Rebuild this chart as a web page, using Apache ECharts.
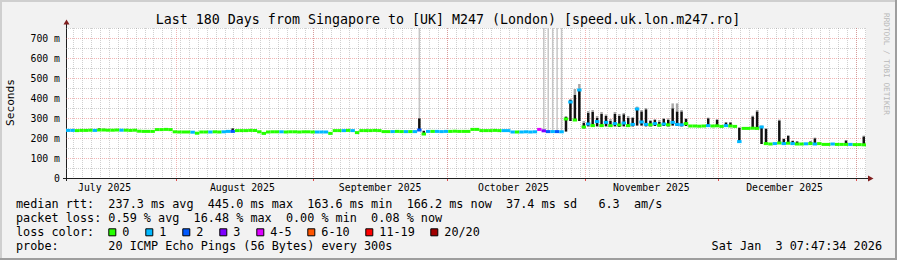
<!DOCTYPE html>
<html><head><meta charset="utf-8">
<script src="https://cdn.jsdelivr.net/npm/echarts@6/dist/echarts.min.js"></script>
<style>html,body{margin:0;padding:0;background:#f2f2f2}#c{width:897px;height:260px}</style>
</head><body><div id="c"></div>
<script>
// ---------- data ----------
const titleText = 'Last 180 Days from Singapore to [UK] M247 (London) [speed.uk.lon.m247.ro]';
const startTime = '2025-07-07T07:47:34Z';
const endTime = '2026-01-03T07:47:34Z';
const minorGridFrom = '2025-07-09T00:00:00Z';
const monthStarts = ['2025-08-01', '2025-09-01', '2025-10-01', '2025-11-01', '2025-12-01', '2026-01-01'];
const monthLabelDates = ['2025-07-16', '2025-08-16', '2025-09-16', '2025-10-16', '2025-11-16', '2025-12-16'];
const monthLabels = ['July 2025', 'August 2025', 'September 2025', 'October 2025', 'November 2025', 'December 2025'];
const yMajorValues = [100, 200, 300, 400, 500, 600, 700];
const yMinorValues = [50, 150, 250, 350, 450, 550, 650, 750];
const yMax = 750;

// daily median rtt (ms), one per day from the start
const median = [
  238,238,237,238,238,239,238,240,240,239,
  239,240,239,239,238,239,234,233,233,233,
  242,242,243,242,231,230,230,230,229,224,
  230,230,230,231,230,231,233,233,237,237,
  237,238,237,231,223,230,231,231,231,230,
  231,231,230,231,231,230,230,230,230,223,
  237,237,237,238,237,227,237,237,237,238,
  237,232,232,232,233,232,232,232,232,240,
  220,233,233,233,232,233,233,234,233,233,
  233,243,243,237,237,237,238,237,237,237,
  230,230,230,231,230,231,243,236,232,232,
  232,231,295,380,290,440,255,270,262,282,
  262,278,262,272,265,275,262,268,345,280,
  268,266,272,264,270,266,278,268,266,272,
  260,260,259,260,262,260,261,258,262,260,
  258,182,248,248,249,248,255,172,170,172,
  175,172,174,172,170,170,171,172,170,172,
  168,168,170,168,168,168,168,167,167,166
];
// daily loss bucket index (0:'0',1:'1',2:'2',3:'3',4:'4-5',5:'6-10',6:'11-19',7:'20/20')
const loss = [
  1,1,0,0,0,0,1,0,0,0,
  0,0,1,0,0,0,0,0,0,0,
  0,0,0,0,0,0,0,0,1,0,
  0,0,1,0,0,1,1,2,0,0,
  0,0,0,0,0,0,0,0,1,0,
  0,0,0,0,0,0,1,1,1,0,
  0,0,1,0,1,0,0,0,0,0,
  0,0,0,1,0,0,1,0,1,2,
  0,1,0,1,1,1,0,0,0,0,
  0,0,0,0,0,0,0,0,1,1,
  1,0,1,1,1,1,4,3,2,1,
  2,1,0,1,0,1,0,1,0,1,
  0,1,0,1,0,1,0,1,1,1,
  1,0,1,0,1,0,1,1,1,0,
  0,0,0,0,1,0,0,0,1,0,
  0,1,0,0,0,0,1,0,0,1,
  0,1,0,1,0,0,1,0,1,0,
  0,0,1,0,0,0,1,0,0,0
];
// smoke: [day, low, high (dark), outer high (light)] in ms
const smoke = [
  [7,238,248,248],[8,238,246,246],[37,233,248,248],
  [79,240,298,800],[80,220,236,236],[106,243,250,250],
  [107,236,236,800],[108,232,232,800],[109,232,232,800],[110,232,232,800],[111,231,231,800],
  [112,232,305,310],[113,285,390,395],[114,285,415,445],[115,285,445,470],[116,248,275,285],
  [117,258,325,335],[118,255,330,340],[119,258,300,310],[120,255,320,330],[121,258,310,318],
  [122,255,285,295],[123,258,320,330],[124,255,310,320],[125,258,318,325],[126,255,300,310],
  [127,258,300,305],[128,262,350,357],[129,262,332,340],[130,258,343,350],[131,258,285,290],
  [132,260,290,295],[133,258,280,290],[134,260,295,300],[135,258,290,298],[136,262,348,373],
  [137,260,332,373],[138,258,332,340],[139,260,295,300],[144,258,298,302],[146,258,290,295],
  [148,258,277,280],[149,258,277,280],[151,182,250,255],[154,246,307,312],[155,246,332,340],
  [156,170,257,262],[157,170,245,250],[160,170,287,292],[161,170,195,198],[162,170,210,215],
  [163,170,185,188],[164,170,182,185],[167,170,182,185],[168,170,198,202],[175,168,187,190],
  [179,166,207,212]
];
const lossLabels = ['0', '1', '2', '3', '4-5', '6-10', '11-19', '20/20'];
const lossColors = ['#26ff00', '#00b8ff', '#0059ff', '#7e00ff', '#dd00ff', '#ff5500', '#ff0000', '#a10000'];
const legendRows = [
  'median rtt:  237.3 ms avg  445.0 ms max  163.6 ms min  166.2 ms now  37.4 ms sd   6.3  am/s',
  'packet loss: 0.59 % avg  16.48 % max  0.00 % min  0.08 % now',
  'loss color:',
  'probe:       20 ICMP Echo Pings (56 Bytes) every 300s'
];
const dateText = 'Sat Jan  3 07:47:34 2026';

// ---------- chart ----------
const MONO = '"DejaVu Sans Mono", monospace';
const DAY = 86400000;
const START = Date.parse(startTime), END = Date.parse(endTime);
const dayTime = i => START + (i + 0.5) * DAY;
const GRID_MINOR = 'rgba(143,143,143,0.42)';
const GRID_MAJOR = 'rgba(222,79,79,0.42)';

const vLines = [];
for (let t = Date.parse(minorGridFrom); t < END; t += 2 * DAY) vLines.push([t, 0, 0]);
monthStarts.forEach(d => vLines.push([Date.parse(d + 'T00:00:00Z'), 0, 1]));
const hLines = yMinorValues.map(v => [START, v, 0]).concat(yMajorValues.map(v => [START, v, 1]));
const labelTimes = monthLabelDates.map(d => Date.parse(d + 'T00:00:00Z'));

const chart = echarts.init(document.getElementById('c'), null, {renderer: 'svg', width: 897, height: 260});

const G = {left: 66, top: 28, width: 800, height: 150};
const legendX = 16, rowY = [204.3, 218.3, 232.3, 246];
const sqX = [108.3, 145.3, 182.3, 219.3, 256.3, 307.3, 365.3, 430.3];

function txt(text, x, y, size, align, extra) {
  return Object.assign({type: 'text', x: x, y: y, silent: true,
    style: {text: text, fontFamily: MONO, fontSize: size, fill: '#000',
      align: align, verticalAlign: 'middle'}}, extra || {});
}

const graphics = [
  {type: 'rect', silent: true, shape: {x: 0, y: 0, width: 897, height: 2}, style: {fill: '#cfcfcf'}},
  {type: 'rect', silent: true, shape: {x: 0, y: 0, width: 2, height: 260}, style: {fill: '#cfcfcf'}},
  {type: 'rect', silent: true, shape: {x: 0, y: 258, width: 897, height: 2}, style: {fill: '#9e9e9e'}},
  {type: 'rect', silent: true, shape: {x: 895, y: 0, width: 2, height: 260}, style: {fill: '#9e9e9e'}},
  txt(titleText, 448, 19, 13.3, 'center'),
  txt('Seconds', 10, 102.5, 11.2, 'center', {rotation: Math.PI / 2}),
  txt('RRDTOOL / TOBI OETIKER', 886, 13, 7.7, 'left', {rotation: -Math.PI / 2}),
  {type: 'line', silent: true, shape: {x1: 66.5, y1: 181, x2: 66.5, y2: 24}, style: {stroke: '#1f1f1f', lineWidth: 1}},
  {type: 'polygon', silent: true, shape: {points: [[63.5, 24.5], [69.5, 24.5], [66.5, 19.5]]}, style: {fill: '#801f1f'}},
  {type: 'line', silent: true, shape: {x1: 63, y1: 178.5, x2: 868, y2: 178.5}, style: {stroke: '#1f1f1f', lineWidth: 1}},
  {type: 'polygon', silent: true, shape: {points: [[868, 175.5], [868, 181.5], [873.5, 178.5]]}, style: {fill: '#801f1f'}},
  txt(dateText, 882, rowY[3], 11.8, 'right')
];
graphics[6].style.fill = '#b8b8b8';
legendRows.forEach((r, i) => graphics.push(txt(r, legendX, rowY[i], 11.8, 'left')));
lossLabels.forEach((l, i) => {
  graphics.push({type: 'rect', silent: true, shape: {x: sqX[i] + 0.5, y: rowY[2] - 3.5, width: 7, height: 7},
    style: {fill: lossColors[i], stroke: '#000', lineWidth: 1}});
  graphics.push(txt(l, sqX[i] + 14, rowY[2], 11.8, 'left'));
});

const option = {
  animation: false,
  backgroundColor: '#f2f2f2',
  grid: Object.assign({show: true, backgroundColor: '#ffffff', borderWidth: 0, containLabel: false}, G),
  xAxis: {
    type: 'value', min: START, max: END, scale: true,
    axisLine: {show: false}, axisTick: {show: false}, splitLine: {show: false},
    axisLabel: {
      customValues: labelTimes,
      formatter: v => { const k = labelTimes.indexOf(v); return k >= 0 ? monthLabels[k] : ''; },
      fontFamily: MONO, fontSize: 9.8, color: '#000', margin: 4, hideOverlap: false
    }
  },
  yAxis: {
    type: 'value', min: 0, max: yMax, interval: 100,
    axisLine: {show: false}, axisTick: {show: false}, splitLine: {show: false},
    axisLabel: {
      formatter: v => (v === 0 ? '0' : (v % 100 === 0 ? v + ' m' : '')),
      fontFamily: MONO, fontSize: 9.8, color: '#000', margin: 6
    }
  },
  graphic: {elements: graphics},
  series: [
    {
      type: 'custom', silent: true, data: hLines, encode: {x: 0, y: 1},
      renderItem: (p, api) => {
        const v = api.value(1), major = api.value(2);
        const a = api.coord([START, v]), b = api.coord([END, v]);
        const y = Math.round(a[1]) + 0.5;
        return {type: 'line', shape: {x1: a[0], y1: y, x2: b[0], y2: y},
          style: {stroke: major ? GRID_MAJOR : GRID_MINOR, lineWidth: 1, lineDash: [1, 1]}};
      }
    },
    {
      type: 'custom', silent: true, data: vLines, encode: {x: 0, y: 1},
      renderItem: (p, api) => {
        const t = api.value(0), major = api.value(2);
        const top = api.coord([t, yMax]), bot = api.coord([t, 0]);
        const x = Math.round(top[0]) + 0.5;
        const ch = [{type: 'line', shape: {x1: x, y1: top[1], x2: x, y2: bot[1]},
          style: {stroke: major ? GRID_MAJOR : GRID_MINOR, lineWidth: 1, lineDash: [1, 1]}}];
        if (major) ch.push({type: 'line', shape: {x1: x, y1: bot[1] + 1, x2: x, y2: bot[1] + 3},
          style: {stroke: '#de4f4f', lineWidth: 1}});
        return {type: 'group', children: ch};
      }
    },
    {
      type: 'custom', silent: true,
      data: smoke.map(s => [dayTime(s[0]), s[1], s[2], s[3]]), encode: {x: 0, y: 1},
      renderItem: (p, api) => {
        const t = api.value(0);
        const lo = api.coord([t, api.value(1)]);
        const hi = api.coord([t, Math.min(api.value(2), yMax)]);
        const out = api.coord([t, Math.min(api.value(3), yMax)]);
        const tall = api.value(3) > yMax;
        const wg = tall ? 1.5 : 2.5, wb = 2.5;
        return {type: 'group', children: [
          {type: 'rect', shape: {x: lo[0] - wg / 2, y: out[1], width: wg, height: hi[1] - out[1]},
            style: {fill: tall ? '#c6c6c6' : '#a8a8a8'}},
          {type: 'rect', shape: {x: lo[0] - wb / 2, y: hi[1], width: wb, height: lo[1] - hi[1]}, style: {fill: '#111111'}}
        ]};
      }
    },
    {
      type: 'custom', silent: true,
      data: median.map((m, i) => [dayTime(i), m, loss[i]]), encode: {x: 0, y: 1},
      renderItem: (p, api) => {
        const t = api.value(0), v = api.value(1), l = api.value(2);
        const a = api.coord([t - DAY / 2, v]), b = api.coord([t + DAY / 2, v]);
        return {type: 'rect', shape: {x: a[0], y: a[1] - 1.5, width: b[0] - a[0], height: 3},
          style: {fill: lossColors[l]}};
      }
    }
  ]
};
chart.setOption(option);
</script>
</body></html>
